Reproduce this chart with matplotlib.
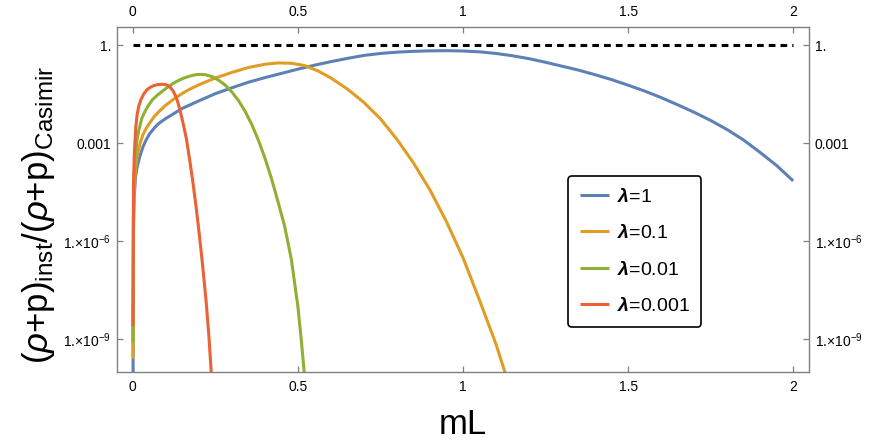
import numpy as np
import matplotlib
matplotlib.use("Agg")
import matplotlib.pyplot as plt

plt.rcParams['font.family'] = ['Liberation Sans', 'DejaVu Sans']
plt.rcParams['mathtext.fontset'] = 'custom'
plt.rcParams['mathtext.rm'] = 'Liberation Sans'
plt.rcParams['mathtext.it'] = 'Liberation Sans:italic'
plt.rcParams['mathtext.bf'] = 'Liberation Sans:bold'
plt.rcParams['mathtext.bfit'] = 'Liberation Sans:bold:italic'

# ---- data (x = mL, values as log10 of the ratio) ----
blue_x = [0.0005, 0.002, 0.004, 0.008, 0.012, 0.016, 0.022, 0.031, 0.04, 0.05,
          0.065, 0.08, 0.1, 0.15, 0.2, 0.25, 0.3, 0.35, 0.4, 0.45,
          0.5, 0.55, 0.6, 0.65, 0.7, 0.75, 0.8, 0.85, 0.9, 0.95,
          1.0, 1.05, 1.1, 1.15, 1.2, 1.25, 1.3, 1.35, 1.4, 1.45,
          1.5, 1.55, 1.6, 1.65, 1.7, 1.75, 1.8, 1.85, 1.9, 1.95, 2.0]
blue_log = [-10.5, -5.6, -4.65, -4.05, -3.78, -3.6, -3.37, -3.1, -2.9, -2.72,
            -2.53, -2.38, -2.24, -1.93, -1.7, -1.48, -1.3, -1.13, -0.99, -0.86,
            -0.73, -0.61, -0.5, -0.4, -0.31, -0.25, -0.21, -0.185, -0.17, -0.165,
            -0.175, -0.2, -0.25, -0.32, -0.41, -0.52, -0.64, -0.76, -0.9, -1.05,
            -1.22, -1.4, -1.6, -1.82, -2.05, -2.3, -2.58, -2.9, -3.28, -3.68, -4.15]

orange_x = [0.0005, 0.002, 0.004, 0.008, 0.012, 0.016, 0.022, 0.03, 0.04, 0.05,
            0.065, 0.08, 0.1, 0.125, 0.15, 0.175, 0.2, 0.25, 0.3, 0.35,
            0.4, 0.44, 0.48, 0.52, 0.56, 0.6, 0.65, 0.7, 0.75, 0.8,
            0.85, 0.9, 0.95, 1.0, 1.05, 1.1, 1.13]
orange_log = [-9.6, -5.2, -4.5, -3.8, -3.45, -3.25, -3.0, -2.75, -2.55, -2.39,
              -2.18, -2.02, -1.83, -1.64, -1.47, -1.33, -1.21, -1.0, -0.83, -0.68,
              -0.58, -0.54, -0.55, -0.62, -0.78, -1.0, -1.34, -1.75, -2.25, -2.88,
              -3.6, -4.43, -5.4, -6.5, -7.8, -9.15, -10.1]

green_x = [0.0005, 0.002, 0.004, 0.007, 0.012, 0.018, 0.027, 0.037, 0.047, 0.06,
           0.075, 0.09, 0.11, 0.13, 0.15, 0.17, 0.19, 0.205, 0.22, 0.24,
           0.26, 0.28, 0.3, 0.32, 0.34, 0.36, 0.38, 0.4, 0.42, 0.44,
           0.46, 0.48, 0.5, 0.51, 0.519]
green_log = [-9.1, -4.7, -4.0, -3.45, -2.95, -2.6, -2.24, -2.02, -1.84, -1.66,
             -1.52, -1.4, -1.25, -1.12, -1.02, -0.95, -0.9, -0.89, -0.9, -0.96,
             -1.07, -1.22, -1.43, -1.69, -2.02, -2.42, -2.9, -3.45, -4.08, -4.8,
             -5.55, -6.55, -8.0, -9.0, -10.0]

red_x = [0.0005, 0.002, 0.004, 0.006, 0.009, 0.013, 0.018, 0.025, 0.033, 0.042,
         0.052, 0.062, 0.072, 0.082, 0.092, 0.102, 0.112, 0.122, 0.132, 0.142,
         0.152, 0.162, 0.172, 0.182, 0.192, 0.202, 0.212, 0.222, 0.23, 0.238]
red_log = [-8.6, -4.3, -3.45, -3.0, -2.5, -2.12, -1.86, -1.65, -1.49, -1.37,
           -1.29, -1.24, -1.21, -1.195, -1.195, -1.21, -1.27, -1.4, -1.6, -1.95,
           -2.38, -2.85, -3.5, -4.2, -4.98, -5.85, -6.8, -7.85, -8.85, -10.1]

labels = ['1', '0.1', '0.01', '0.001']
colors = ['#5E81B5', '#E19C24', '#8FB032', '#EB6235']

ref_x = [0.0, 2.0]
ref_y = [1.0, 1.0]

xticks = [0, 0.5, 1, 1.5, 2]
xticklabels = ['0', '0.5', '1', '1.5', '2']
yticks = [1e-9, 1e-6, 1e-3, 1.0]
yticklabels = [r'1.×10$^{-9}$', r'1.×10$^{-6}$', '0.001', '1.']

# ---- figure ----
fig = plt.figure(figsize=(8.7, 4.46), dpi=100)
ax = fig.add_axes([117/870, 1-372/446, (809-117)/870, (372-27)/446])

series = [(blue_x, blue_log), (orange_x, orange_log), (green_x, green_log), (red_x, red_log)]
for (xs, ls), lab, c in zip(series, labels, colors):
    ax.plot(xs, np.power(10.0, ls), color=c, lw=2.2,
            label=r'$\mathbfit{\lambda}$=' + lab, solid_capstyle='butt',
            solid_joinstyle='round')

ax.plot(ref_x, ref_y, color='black', lw=2.2, dashes=(2.2, 1.65))

ax.set_yscale('log')
ax.set_xlim(-0.048, 2.048)
ax.set_ylim(10**-10.0, 10**0.56)

ax.set_xticks(xticks)
ax.set_xticklabels(xticklabels)
ax.set_yticks(yticks)
ax.set_yticklabels(yticklabels)
ax.yaxis.set_minor_locator(matplotlib.ticker.NullLocator())

frame_c = '#808080'
for s in ax.spines.values():
    s.set_color(frame_c)
    s.set_linewidth(1.0)
ax.tick_params(axis='both', which='major', direction='in', length=4, width=0.9,
               color=frame_c, labelsize=10, top=True, right=True,
               labeltop=True, labelright=True)
ax.tick_params(axis='x', which='major', pad=6)
ax.tick_params(axis='y', which='major', pad=4)

ax.set_xlabel('mL', fontsize=25, labelpad=10)
ax.set_ylabel(r'$(\rho\mathrm{+p})_{\mathrm{inst}}/(\rho\mathrm{+p})_{\mathrm{Casimir}}$',
              fontsize=25, labelpad=5)
ax.yaxis.label.set_y(0.455)

leg = ax.legend(loc='upper left', bbox_to_anchor=(0.652, 0.568), borderaxespad=0,
                fontsize=14, handlelength=1.5, handletextpad=0.4, labelspacing=0.95,
                borderpad=0.6, frameon=True, fancybox=True, framealpha=1)
leg.get_frame().set_edgecolor('black')
leg.get_frame().set_linewidth(1.2)
for h in leg.get_lines():
    h.set_linewidth(2.2)

fig.savefig('out.png', dpi=100)
